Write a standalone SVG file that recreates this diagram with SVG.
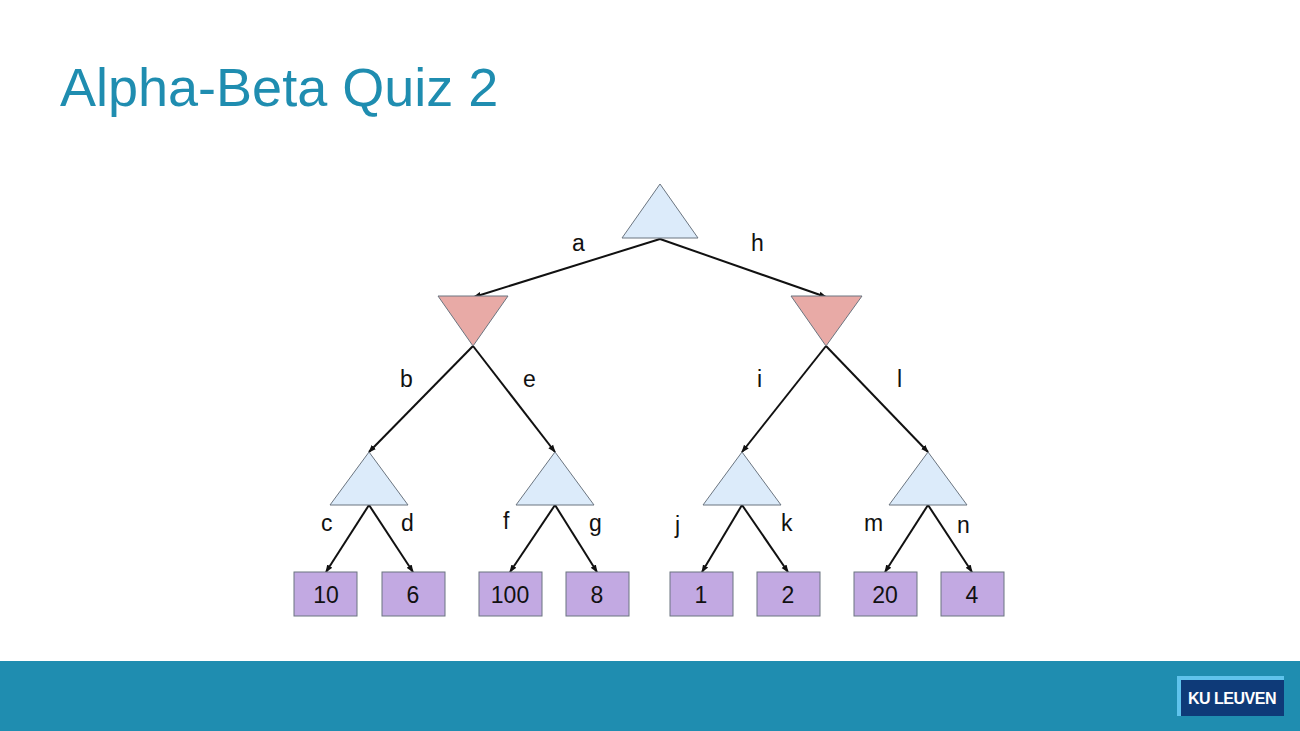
<svg xmlns="http://www.w3.org/2000/svg" width="1300" height="731" viewBox="0 0 1300 731">
<style>
.max{fill:#dcebfa;stroke:#6b7580;stroke-width:1}
.min{fill:#e8aaa6;stroke:#6b7580;stroke-width:1}
.leaf{fill:#c2a9e2;stroke:#6b7580;stroke-width:1}
.e{stroke:#111;stroke-width:2;fill:none;marker-end:url(#ah)}
text{font-family:"Liberation Sans",Arial,sans-serif;fill:#111}
.lb{font-size:23px}
.lv{font-size:23px;text-anchor:middle}
</style>
<defs><marker id="ah" markerWidth="8" markerHeight="8" refX="7" refY="4" orient="auto" markerUnits="userSpaceOnUse"><path d="M0,1 L8,4 L0,7 Z" fill="#111"/></marker></defs>
<rect width="1300" height="731" fill="#fff"/>
<text x="60" y="106" style="font-size:54px;fill:#1f8db0">Alpha-Beta Quiz 2</text>
<g id="connectors">
<path class="e" d="M660,239 L474,297"/>
<path class="e" d="M660,239 L826,297"/>
<path class="e" d="M473,346 L369,452"/>
<path class="e" d="M473,346 L555,452"/>
<path class="e" d="M826,346 L742,452"/>
<path class="e" d="M826,346 L928,452"/>
<path class="e" d="M369,505 L326,572"/>
<path class="e" d="M369,505 L413,572"/>
<path class="e" d="M555,505 L510,572"/>
<path class="e" d="M555,505 L597,572"/>
<path class="e" d="M742,505 L702,572"/>
<path class="e" d="M742,505 L788,572"/>
<path class="e" d="M928,505 L885,572"/>
<path class="e" d="M928,505 L972,572"/>
<text class="lb" x="572" y="251">a</text><text class="lb" x="751" y="251">h</text>
<text class="lb" x="400" y="387">b</text><text class="lb" x="523" y="387">e</text>
<text class="lb" x="757" y="387">i</text><text class="lb" x="897" y="387">l</text>
<text class="lb" x="321" y="531">c</text><text class="lb" x="401" y="531">d</text>
<text class="lb" x="503" y="529">f</text><text class="lb" x="589" y="531">g</text>
<text class="lb" x="675" y="533">j</text><text class="lb" x="781" y="531">k</text>
<text class="lb" x="864" y="531">m</text><text class="lb" x="957" y="533">n</text>
</g>
<g id="root"><polygon class="max" points="660,184 698,238 622,238"/></g>
<g id="minL"><polygon class="min" points="438,296 508,296 473,346"/></g>
<g id="minR"><polygon class="min" points="791,296 862,296 826,346"/></g>
<g id="max1"><polygon class="max" points="369,452 408,505 330,505"/></g>
<g id="max2"><polygon class="max" points="555,452 594,505 516,505"/></g>
<g id="max3"><polygon class="max" points="742,452 781,505 703,505"/></g>
<g id="max4"><polygon class="max" points="928,452 967,505 889,505"/></g>
<g id="leaf1"><rect class="leaf" x="294" y="572" width="63" height="44"/><text class="lv" x="326" y="603">10</text></g>
<g id="leaf2"><rect class="leaf" x="382" y="572" width="63" height="44"/><text class="lv" x="413" y="603">6</text></g>
<g id="leaf3"><rect class="leaf" x="479" y="572" width="63" height="44"/><text class="lv" x="510" y="603">100</text></g>
<g id="leaf4"><rect class="leaf" x="566" y="572" width="63" height="44"/><text class="lv" x="597" y="603">8</text></g>
<g id="leaf5"><rect class="leaf" x="670" y="572" width="63" height="44"/><text class="lv" x="701" y="603">1</text></g>
<g id="leaf6"><rect class="leaf" x="757" y="572" width="63" height="44"/><text class="lv" x="788" y="603">2</text></g>
<g id="leaf7"><rect class="leaf" x="854" y="572" width="63" height="44"/><text class="lv" x="885" y="603">20</text></g>
<g id="leaf8"><rect class="leaf" x="941" y="572" width="63" height="44"/><text class="lv" x="972" y="603">4</text></g>
<rect x="0" y="661" width="1300" height="70" fill="#1f8db0"/>
<rect x="1177" y="676" width="107" height="40" fill="#5fc3ec"/>
<rect x="1181" y="680" width="103" height="36" fill="#0e3a78"/>
<text x="1232" y="704" style="font-size:16px;font-weight:bold;fill:#fff;text-anchor:middle;letter-spacing:-0.5px">KU LEUVEN</text>
</svg>
